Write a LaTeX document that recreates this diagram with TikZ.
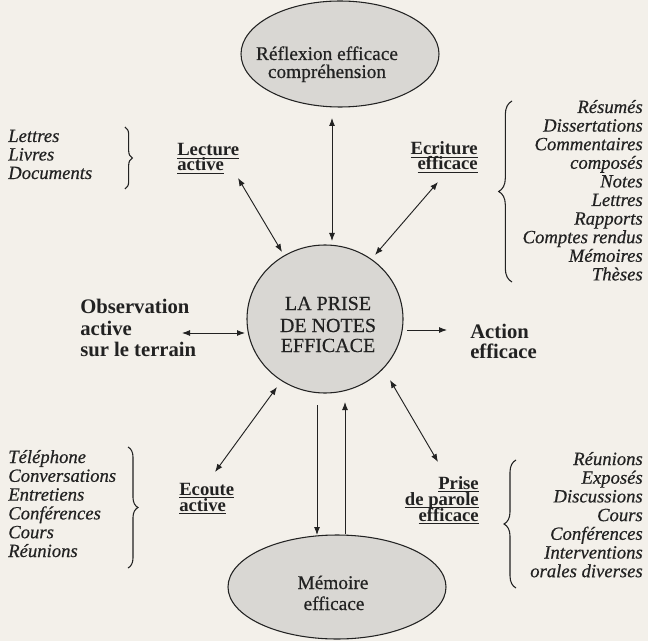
\documentclass[tikz,border=0pt]{standalone}
\usepackage{fontspec}
\setmainfont{Liberation Serif}[UprightFeatures={FakeBold=0.5},ItalicFeatures={FakeBold=0.5}]
\usetikzlibrary{arrows.meta,shapes.geometric,decorations.pathreplacing}
\definecolor{paper}{HTML}{F3F0EA}
\definecolor{shade}{HTML}{D9D7D3}
\definecolor{ink}{HTML}{222222}
\newcommand{\myul}[1]{\setbox0\hbox{#1}\rlap{\smash{\rule[-2.6pt]{\wd0}{1pt}}}\box0}
\begin{document}
\begin{tikzpicture}[x=0.75pt,y=-0.75pt,
  shapebox/.style={draw=ink, fill=shade, line width=0.8pt, inner sep=0pt},
  lbl/.style={inner sep=0pt, text=ink, font=\fontsize{14}{16}\selectfont\bfseries},
  big/.style={inner sep=0pt, text=ink, font=\fontsize{15.5}{18}\selectfont\bfseries},
  itl/.style={inner sep=0pt, text=ink, font=\fontsize{14}{16}\selectfont\itshape},
  rom/.style={inner sep=0pt, text=ink, font=\fontsize{14.5}{17}\selectfont},
  ctr/.style={inner sep=0pt, text=ink, font=\fontsize{15}{17}\selectfont},
  arr/.style={draw=ink, line width=0.7pt, -{Latex[length=6pt,width=4.5pt]}},
  dbl/.style={draw=ink, line width=0.7pt, {Latex[length=6pt,width=4.5pt]}-{Latex[length=6pt,width=4.5pt]}},
  brc/.style={draw=ink, line width=0.8pt, decorate, decoration={brace, amplitude=#1}}]
\fill[paper] (0,0) rectangle (648,641);
\useasboundingbox (0,0) rectangle (648,641);

% shapes
\node[shapebox, ellipse, minimum width=148.5pt, minimum height=79.5pt] (refl) at (340,54) {};
\node[rom, anchor=base] (refl1) at (327,60) {Réflexion efficace};
\node[rom, anchor=base] (refl2) at (327,78) {compréhension};

\node[shapebox, ellipse, minimum width=117pt, minimum height=111pt] (circ) at (325,319) {};
\node[ctr, anchor=base] (c1) at (328,310) {LA PRISE};
\node[ctr, anchor=base] (c2) at (328,332) {DE NOTES};
\node[ctr, anchor=base] (c3) at (328,352) {EFFICACE};

\coordinate (mem) at (337,587);
\draw[shapebox] (mem) ellipse [x radius=109, y radius=52];
\node[rom, anchor=base] (mem1) at (333,589) {Mémoire};
\node[rom, anchor=base] (mem2) at (334,610) {efficace};

% labels
\node[lbl, anchor=base west] (lect1) at (177,156) {\myul{Lecture}};
\node[lbl, anchor=base west] (lect2) at (177,171) {\myul{active}};
\node[lbl, anchor=base east] (ecr1) at (478,155) {\myul{Ecriture}};
\node[lbl, anchor=base east] (ecr2) at (478,170) {\myul{efficace}};
\node[lbl, anchor=base west] (eco1) at (179,495) {\myul{Ecoute}};
\node[lbl, anchor=base west] (eco2) at (179,511) {\myul{active}};
\node[lbl, anchor=base east] (pri1) at (479,489) {\myul{Prise}};
\node[lbl, anchor=base east] (pri2) at (479,505) {\myul{de parole}};
\node[lbl, anchor=base east] (pri3) at (479,521) {\myul{efficace}};

\node[big, anchor=base west] (obs1) at (80,313) {Observation};
\node[big, anchor=base west] (obs2) at (80,335) {active};
\node[big, anchor=base west] (obs3) at (80,356) {sur le terrain};
\node[big, anchor=base west] (act1) at (470,338) {Action};
\node[big, anchor=base west] (act2) at (470,358) {efficace};

% lists
\foreach \t [count=\i] in {Lettres,Livres,Documents}
  \node[itl, anchor=base west] (tl\i) at (8,{142+18.5*(\i-1)}) {\t};
\foreach \t [count=\i] in {Résumés,Dissertations,Commentaires,composés,Notes,Lettres,Rapports,Comptes rendus,Mémoires,Thèses}
  \node[itl, anchor=base east] (tr\i) at (643,{113+18.6*(\i-1)}) {\t};
\foreach \t [count=\i] in {Téléphone,Conversations,Entretiens,Conférences,Cours,Réunions}
  \node[itl, anchor=base west] (bl\i) at (8,{463+18.8*(\i-1)}) {\t};
\foreach \t [count=\i] in {Réunions,Exposés,Discussions,Cours,Conférences,Interventions,orales diverses}
  \node[itl, anchor=base east] (br\i) at (643,{465+18.7*(\i-1)}) {\t};

% braces
\draw[brc=5.5pt] (125,127) -- (125,189);
\draw[brc=10pt] (512,282) -- (512,101);
\draw[brc=7.5pt] (128,447) -- (128,568);
\draw[brc=9pt] (516,588) -- (516,460);

% arrows
\draw[dbl] ([shift={(-8,64)}]refl.center) -- ([shift={(7,-78)}]circ.center);
\draw[dbl] ([shift={(61,7)}]lect2.base west) -- ([shift={(-43,-67)}]circ.center);
\draw[dbl] ([shift={(-40,12)}]ecr2.base east) -- ([shift={(50,-64)}]circ.center);
\draw[dbl] ([shift={(102,-2)}]obs2.base west) -- ([shift={(-80,14)}]circ.center);
\draw[arr] ([shift={(82,11)}]circ.center) -- ([shift={(-23,-8)}]act1.base west);
\draw[dbl] ([shift={(36,-23)}]eco1.base west) -- ([shift={(-48,68)}]circ.center);
\draw[arr] ([shift={(-8,86)}]circ.center) -- ([shift={(-20,-52)}]mem);
\draw[arr] ([shift={(8,-53)}]mem) -- ([shift={(20,83)}]circ.center);
\draw[dbl] ([shift={(-41,-27)}]pri1.base east) -- ([shift={(65,61)}]circ.center);
\end{tikzpicture}
\end{document}
